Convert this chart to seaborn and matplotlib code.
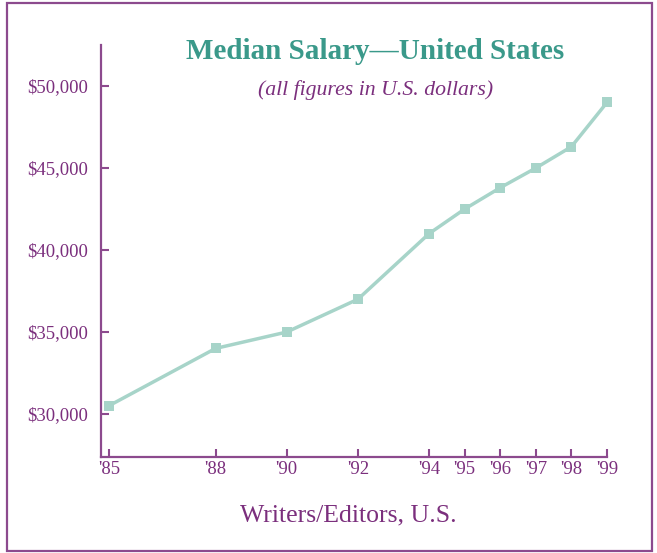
import pandas as pd
import matplotlib
matplotlib.use("Agg")
import matplotlib.pyplot as plt
import seaborn as sns
from matplotlib.patches import Rectangle

sns.set_style("white")
plt.rcParams['font.family'] = ['Liberation Serif', 'DejaVu Serif']

# Data
years = [85, 88, 90, 92, 94, 95, 96, 97, 98, 99]
year_labels = ["'85", "'88", "'90", "'92", "'94", "'95", "'96", "'97", "'98", "'99"]
salary = [30500, 34000, 35000, 37000, 41000, 42500, 43800, 45000, 46300, 49000]
y_ticks = [30000, 35000, 40000, 45000, 50000]
y_labels = ["$30,000", "$35,000", "$40,000", "$45,000", "$50,000"]

df = pd.DataFrame({"year": years, "salary": salary})

purple = "#8c4a8e"
text_purple = "#7b2f7d"
teal = "#3a998a"
line_col = "#a7d4c9"

fig = plt.figure(figsize=(6.57, 5.53), dpi=100)
ax = fig.add_axes([0.1537, 0.1736, 0.7702, 0.745])

sns.lineplot(data=df, x="year", y="salary", ax=ax, color=line_col,
             linewidth=2.5, marker="s", markersize=7.8, markeredgewidth=0,
             clip_on=False)

ax.set_xlim(84.78, 99)
ax.set_ylim(27380, 52500)
ax.set_xticks(years)
ax.set_xticklabels(year_labels)
ax.set_yticks(y_ticks)
ax.set_yticklabels(y_labels)

for s in ["top", "right"]:
    ax.spines[s].set_visible(False)
for s in ["left", "bottom"]:
    ax.spines[s].set_color(purple)
    ax.spines[s].set_linewidth(1.6)

ax.tick_params(axis="both", direction="in", length=6, width=1.5, color=purple,
               labelcolor=text_purple, labelsize=13.5, bottom=True, left=True)
ax.tick_params(axis="y", pad=9)
ax.tick_params(axis="x", pad=3)
ax.set_xlabel("")
ax.set_ylabel("")

fig.text(0.571, 0.906, "Median Salary\u2014United States", ha="center", va="center",
         color=teal, fontsize=21, fontweight="bold")
fig.text(0.571, 0.838, "(all figures in U.S. dollars)", ha="center", va="center",
         color=text_purple, fontsize=15.7, style="italic")
fig.text(0.53, 0.068, "Writers/Editors, U.S.", ha="center", va="center",
         color=text_purple, fontsize=18.5)

fig.patches.append(Rectangle((7 / 657, 2 / 553), 645 / 657, 548 / 553,
                             transform=fig.transFigure, fill=False,
                             edgecolor=purple, linewidth=1.6))

fig.savefig("out.png", dpi=100)
